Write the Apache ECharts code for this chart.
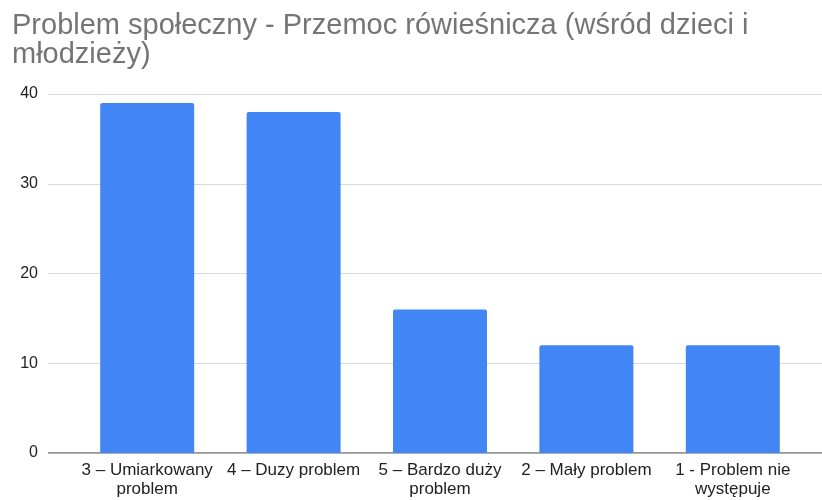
<!DOCTYPE html>
<html>
<head>
<meta charset="utf-8">
<script src="https://cdn.jsdelivr.net/npm/echarts@6/dist/echarts.min.js"></script>
<style>
  html, body { margin: 0; padding: 0; background: #fff; }
  #chart { width: 822px; height: 500px; }
</style>
</head>
<body>
<div id="chart"></div>
<script>
var categories = ['3 – Umiarkowany\nproblem', '4 – Duzy problem', '5 – Bardzo duży\nproblem', '2 – Mały problem', '1 - Problem nie\nwystępuje'];
var values = [39, 38, 16, 12, 12];
var yTicks = [0, 10, 20, 30, 40];

var chart = echarts.init(document.getElementById('chart'));
var font = 'Liberation Sans, Arial, sans-serif';

chart.setOption({
    animation: false,
    textStyle: { fontFamily: font },
    title: {
        text: 'Problem społeczny - Przemoc rówieśnicza (wśród dzieci i\nmłodzieży)',
        left: 7,
        top: 6,
        textStyle: {
            color: '#757575',
            fontSize: 29,
            fontWeight: 'normal',
            lineHeight: 29,
            fontFamily: font
        }
    },
    // grid 0: full-width gridlines + y labels, grid 1: the bars
    grid: [
        { left: 48, right: 0, top: 94, bottom: 47 },
        { left: 74, right: 16, top: 94, bottom: 47 }
    ],
    xAxis: [{
        gridIndex: 0,
        type: 'value',
        min: 0,
        max: 1,
        axisLabel: { show: false },
        axisTick: { show: false },
        splitLine: { show: false },
        axisLine: { show: false }
    }, {
        gridIndex: 1,
        type: 'category',
        data: categories,
        axisTick: { show: false },
        axisLine: { show: false },
        axisLabel: { color: '#222', fontSize: 17, lineHeight: 19, margin: 8, interval: 0 }
    }],
    yAxis: [{
        gridIndex: 0,
        type: 'value',
        min: yTicks[0],
        max: yTicks[yTicks.length - 1],
        interval: 10,
        axisLine: { show: false },
        axisTick: { show: false },
        axisLabel: { color: '#222', fontSize: 16, margin: 10 },
        splitLine: { lineStyle: { color: '#d9d9d9', width: 1 } }
    }, {
        gridIndex: 1,
        type: 'value',
        min: yTicks[0],
        max: yTicks[yTicks.length - 1],
        interval: 10,
        show: false
    }],
    series: [{
        type: 'line',
        xAxisIndex: 0,
        yAxisIndex: 0,
        data: [[0, 0], [1, 0]],
        symbol: 'none',
        silent: true,
        lineStyle: { color: '#333', width: 1 },
        z: 1
    }, {
        type: 'bar',
        xAxisIndex: 1,
        yAxisIndex: 1,
        data: values,
        barWidth: 94,
        itemStyle: { color: '#4285f4', borderRadius: [2, 2, 0, 0] },
        z: 2
    }]
});
</script>
</body>
</html>
